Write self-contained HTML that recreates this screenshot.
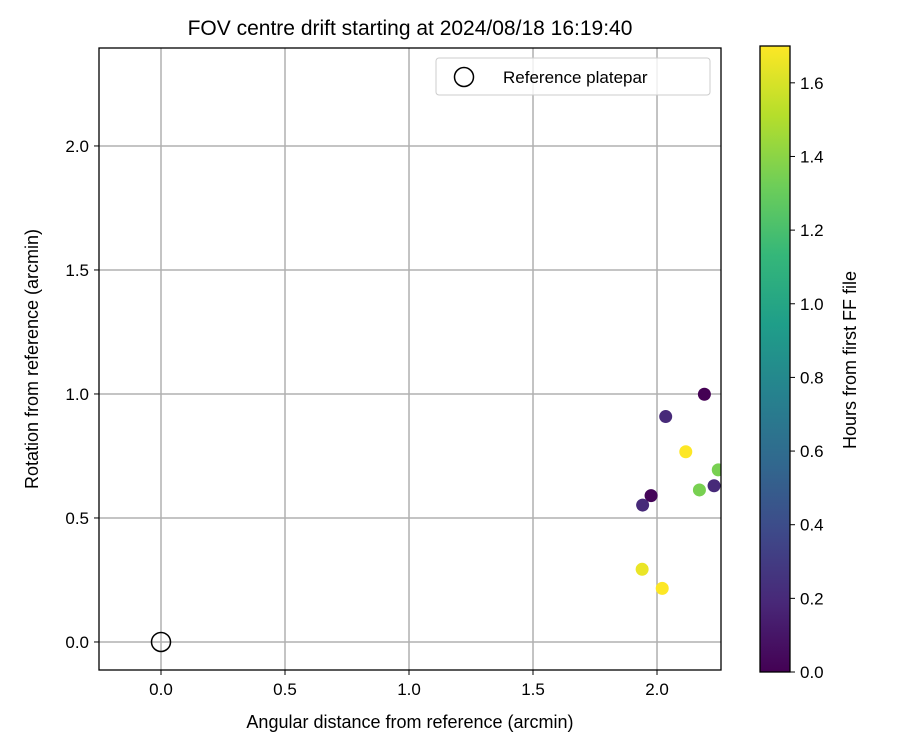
<!DOCTYPE html>
<html><head><meta charset="utf-8"><style>
body{margin:0;background:#fff;font-family:"Liberation Sans",sans-serif}
svg text{font-family:"Liberation Sans",sans-serif;fill:#000}
</style></head><body>
<svg id="c" width="900" height="750" xmlns="http://www.w3.org/2000/svg">
<defs><linearGradient id="vg" x1="0" y1="1" x2="0" y2="0"></linearGradient>
<clipPath id="pa"><rect x="99" y="48" width="622" height="622"/></clipPath></defs>
<text x="410" y="35" font-size="21" text-anchor="middle">FOV centre drift starting at 2024/08/18 16:19:40</text>
<g id="grid"></g><g id="pts" clip-path="url(#pa)"></g><g id="axes"></g>
</svg>
<script>
const xVals=[2.191,2.035,2.116,2.247,2.230,2.171,1.976,1.942,1.940,2.021];
const yVals=[0.999,0.909,0.767,0.694,0.630,0.613,0.590,0.552,0.293,0.216];
const hours=[0.0,0.2,1.7,1.35,0.2,1.35,0.02,0.2,1.65,1.7];
const xTicks=[0,0.5,1,1.5,2];
const yTicks=[0,0.5,1,1.5,2];
const cTicks=[0,0.2,0.4,0.6,0.8,1.0,1.2,1.4,1.6];
const NS='http://www.w3.org/2000/svg';
const L=99,R=721,T=48,B=670,xmin=-0.25,xmax=2.258,ymin=-0.113,ymax=2.395;
const sx=v=>L+(v-xmin)/(xmax-xmin)*(R-L), sy=v=>B-(v-ymin)/(ymax-ymin)*(B-T);
const cmax=1.7,CL=760,CR=790,CT=46,CB=672, sc=v=>CB-v/cmax*(CB-CT);
const vir=['#440154','#482878','#3e4989','#31688e','#26828e','#1f9e89','#35b779','#6ece58','#b5de2b','#fde725'];
function hx(h){return [1,3,5].map(i=>parseInt(h.substr(i,2),16));}
function viridis(t){t=Math.max(0,Math.min(1,t));const p=t*(vir.length-1),i=Math.min(Math.floor(p),vir.length-2),f=p-i;const a=hx(vir[i]),b=hx(vir[i+1]);return 'rgb('+a.map((v,k)=>Math.round(v+(b[k]-v)*f)).join(',')+')';}
function el(t,a,p,txt){const e=document.createElementNS(NS,t);for(const k in a)e.setAttribute(k,a[k]);if(txt!==undefined)e.textContent=txt;p.appendChild(e);return e;}
const svg=document.getElementById('c'),g=document.getElementById('grid'),pg=document.getElementById('pts'),ax=document.getElementById('axes');
const grad=document.getElementById('vg');
vir.forEach((c,i)=>el('stop',{offset:(i/(vir.length-1)*100)+'%','stop-color':c},grad));
xTicks.forEach(v=>{const x=sx(v);
 const ln=el('line',{x1:x,x2:x,y1:T,y2:B,stroke:'#b0b0b0','stroke-width':1.5},g);
 
 el('line',{x1:x,x2:x,y1:B,y2:B+5,stroke:'#000','stroke-width':1},ax);
 const t=el('text',{x:x,y:B+25,'font-size':17,'text-anchor':'middle'},ax,v.toFixed(1));
 });
yTicks.forEach(v=>{const y=sy(v);
 const ln=el('line',{x1:L,x2:R,y1:y,y2:y,stroke:'#b0b0b0','stroke-width':1.5},g);
 
 el('line',{x1:L-5,x2:L,y1:y,y2:y,stroke:'#000','stroke-width':1},ax);
 const t=el('text',{x:L-10,y:y+6,'font-size':17,'text-anchor':'end'},ax,v.toFixed(1));
 });
const ref=el('circle',{cx:sx(0),cy:sy(0),r:9.5,fill:'none',stroke:'#000','stroke-width':1.5},pg);

xVals.forEach((xv,i)=>{const c=el('circle',{cx:sx(xv),cy:sy(yVals[i]),r:6.5,fill:viridis(hours[i]/cmax)},pg);
 });
const fr=el('rect',{x:L,y:T,width:R-L,height:B-T,fill:'none',stroke:'#000','stroke-width':1.3},ax);

const xl=el('text',{x:(L+R)/2,y:728,'font-size':18,'text-anchor':'middle'},ax,'Angular distance from reference (arcmin)');

const yl=el('text',{x:38,y:(T+B)/2,'font-size':18,'text-anchor':'middle',transform:'rotate(-90 38 '+(T+B)/2+')'},ax,'Rotation from reference (arcmin)');

const lg=el('g',{},ax);
el('rect',{x:436,y:58,width:274,height:37,rx:3,fill:'#fff','fill-opacity':0.8,stroke:'#ccc'},lg);
el('circle',{cx:464,cy:77,r:9.5,fill:'none',stroke:'#000','stroke-width':1.5},lg);
const lt=el('text',{x:503,y:83,'font-size':17},lg,'Reference platepar');

const cb=el('rect',{x:CL,y:CT,width:CR-CL,height:CB-CT,fill:'url(#vg)',stroke:'#000','stroke-width':1.3},ax);

cTicks.forEach(v=>{const y=sc(v);
 el('line',{x1:CR,x2:CR+5,y1:y,y2:y,stroke:'#000'},ax);
 const t=el('text',{x:CR+10,y:y+6,'font-size':17},ax,v.toFixed(1));
 });
const ct=el('text',{x:856,y:360,'font-size':18,'text-anchor':'middle',transform:'rotate(-90 856 360)'},ax,'Hours from first FF file');

</script>
</body></html>
